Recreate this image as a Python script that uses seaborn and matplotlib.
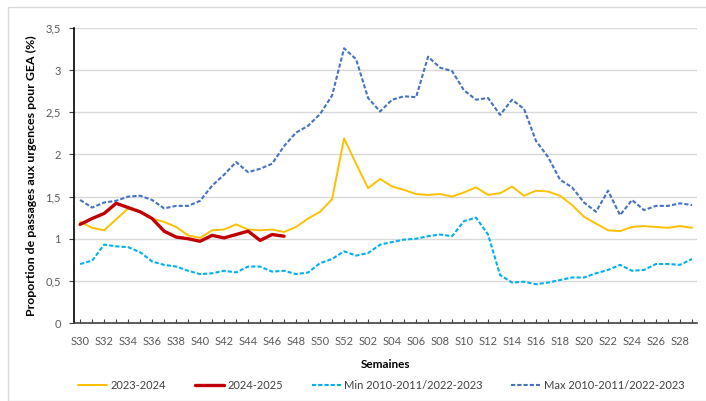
import matplotlib
matplotlib.use("Agg")
import matplotlib.pyplot as plt
import seaborn as sns
import pandas as pd
import numpy as np
from matplotlib.lines import Line2D
from matplotlib.patches import Rectangle

weeks = ["S%02d" % w for w in list(range(30, 53)) + list(range(1, 30))]

s2023_2024 = [1.20, 1.13, 1.10, 1.23, 1.36, 1.32, 1.24, 1.20, 1.14, 1.04, 1.01, 1.10, 1.11, 1.17,
              1.11, 1.10, 1.11, 1.08, 1.14, 1.24, 1.32, 1.47, 2.19, 1.89, 1.60, 1.71, 1.62, 1.58,
              1.53, 1.52, 1.53, 1.50, 1.55, 1.61, 1.52, 1.54, 1.62, 1.51, 1.57, 1.56, 1.51, 1.40,
              1.26, 1.18, 1.10, 1.09, 1.14, 1.15, 1.14, 1.13, 1.15, 1.13]

s2024_2025 = [1.17, 1.24, 1.30, 1.42, 1.37, 1.32, 1.24, 1.09, 1.02, 1.00, 0.97, 1.04, 1.01, 1.05,
              1.09, 0.98, 1.05, 1.03]

s_min = [0.70, 0.74, 0.93, 0.91, 0.90, 0.84, 0.73, 0.69, 0.67, 0.62, 0.58, 0.59, 0.62, 0.60,
         0.67, 0.67, 0.61, 0.62, 0.58, 0.60, 0.71, 0.76, 0.85, 0.80, 0.83, 0.93, 0.96, 0.99,
         1.00, 1.03, 1.05, 1.03, 1.21, 1.25, 1.05, 0.57, 0.48, 0.49, 0.46, 0.48, 0.51, 0.54,
         0.54, 0.59, 0.63, 0.69, 0.62, 0.63, 0.70, 0.70, 0.69, 0.76]

s_max = [1.46, 1.37, 1.43, 1.45, 1.50, 1.51, 1.46, 1.36, 1.39, 1.39, 1.45, 1.63, 1.76, 1.91,
         1.79, 1.83, 1.89, 2.10, 2.26, 2.34, 2.48, 2.70, 3.26, 3.13, 2.67, 2.51, 2.65, 2.69,
         2.68, 3.16, 3.03, 2.99, 2.76, 2.65, 2.67, 2.47, 2.65, 2.54, 2.16, 1.97, 1.70, 1.61,
         1.43, 1.32, 1.57, 1.28, 1.46, 1.34, 1.39, 1.39, 1.42, 1.40]

labels = ["2023-2024", "2024-2025", "Min 2010-2011/2022-2023", "Max 2010-2011/2022-2023"]
colors = ["#FFC000", "#C00000", "#00B0F0", "#4472C4"]

sns.set_theme(style="white")
plt.rcParams["font.family"] = ["Lato", "DejaVu Sans"]

fig = plt.figure(figsize=(7.06, 4.01), dpi=100)
ax = fig.add_axes([0.105, 0.1945, 0.882, 0.7355])

x_all = np.arange(len(weeks))
df_yel = pd.DataFrame({"x": x_all, "y": s2023_2024})
df_red = pd.DataFrame({"x": x_all[:len(s2024_2025)], "y": s2024_2025})
df_min = pd.DataFrame({"x": x_all, "y": s_min})
df_max = pd.DataFrame({"x": x_all, "y": s_max})

for v in np.arange(0.5, 3.51, 0.5):
    ax.axhline(v, color="#D9D9D9", lw=1.0, zorder=0)

sns.lineplot(data=df_max, x="x", y="y", ax=ax, color=colors[3], lw=1.5, zorder=2)
sns.lineplot(data=df_min, x="x", y="y", ax=ax, color=colors[2], lw=1.5, zorder=2)
sns.lineplot(data=df_yel, x="x", y="y", ax=ax, color=colors[0], lw=1.4, zorder=3)
sns.lineplot(data=df_red, x="x", y="y", ax=ax, color=colors[1], lw=2.4, zorder=4)
ax.lines[-4].set_dashes((2, 1))
ax.lines[-3].set_dashes((2, 1))

ax.set_xlim(-0.5, 51.4)
ax.set_ylim(0, 3.5)
ax.set_xticks(x_all)
ax.set_xticklabels([w if i % 2 == 0 else "" for i, w in enumerate(weeks)])
yt = np.arange(0, 3.51, 0.5)
ax.set_yticks(yt)
ax.set_yticklabels([("%g" % v).replace(".", ",") for v in yt])
ax.tick_params(axis="both", width=0.8, color="#404040", labelsize=8, labelcolor="#595959")
ax.tick_params(axis="x", direction="in", length=3, pad=9)
ax.tick_params(axis="y", direction="out", length=3.5, pad=6)
ax.xaxis.set_ticks_position("bottom")
ax.yaxis.set_ticks_position("left")

for s in ["top", "right"]:
    ax.spines[s].set_visible(False)
ax.spines["left"].set_color("#000000")
ax.spines["left"].set_linewidth(1.2)
ax.spines["bottom"].set_color("#404040")
ax.spines["bottom"].set_linewidth(1.2)

ax.set_xlabel("Semaines", fontsize=8.5, fontweight="bold", color="#000000", labelpad=9)
ax.set_ylabel("Proportion de passages aux urgences pour GEA (%)", fontsize=8.9,
              fontweight="bold", color="#000000", labelpad=6)

handles = [
    Line2D([], [], color=colors[0], lw=1.4),
    Line2D([], [], color=colors[1], lw=2.4),
    Line2D([], [], color=colors[2], lw=1.5, dashes=(2, 1)),
    Line2D([], [], color=colors[3], lw=1.5, dashes=(2, 1)),
]
fig.legend(handles, labels, loc="center", bbox_to_anchor=(0.54, 0.038), ncol=4, frameon=False,
           fontsize=8, handlelength=2.6, handletextpad=0.3, columnspacing=2.6,
           labelcolor="#404040")

fig.patches.append(Rectangle((8 / 706, 0.0), 1.0, 1 - 7 / 401, transform=fig.transFigure,
                             fill=False, edgecolor="#D9D9D9", lw=1.0, zorder=-1))

fig.savefig("out.png", dpi=100)
